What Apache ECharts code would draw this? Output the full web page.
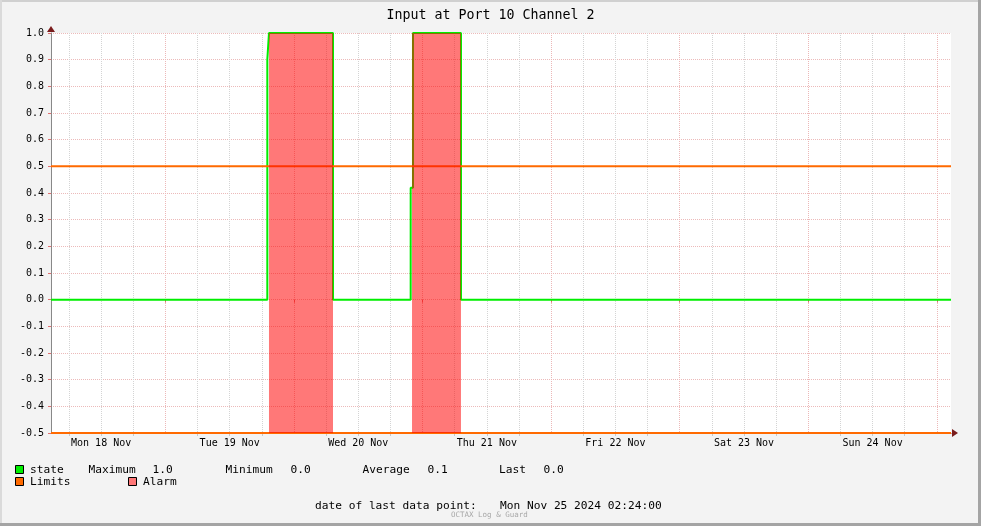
<!DOCTYPE html>
<html><head><meta charset="utf-8">
<script src="https://cdn.jsdelivr.net/npm/echarts@6/dist/echarts.min.js"></script>
<style>html,body{margin:0;padding:0;background:#f3f3f3}#c{width:981px;height:526px}</style>
</head><body><div id="c"></div>
<script>
// Time in hours since Mon 18 Nov 2024 00:00
const XMIN = 2.64, XMAX = 170.64;
const stateHours  = [2.64, 43.02, 43.33, 55.28, 69.78, 70.21, 79.17, 170.64];
const stateValues = [0,    0.9,   1.0,   0,     0.42,  1.0,   0,     0];
const alarmHours  = [2.64, 43.33, 55.28, 70.03, 79.17, 170.64];
const alarmValues = [-0.5, 1.0,   -0.5,  1.0,   -0.5,  -0.5];
const limitValues = [0.5, -0.5];
const dayLabels = ['Mon 18 Nov','Tue 19 Nov','Wed 20 Nov','Thu 21 Nov','Fri 22 Nov','Sat 23 Nov','Sun 24 Nov'];
const dayLabelHours = [12, 36, 60, 84, 108, 132, 156];
const minorTickHours = [6,12,18,30,36,42,54,60,66,78,84,90,102,108,114,126,132,138,150,156,162];
const majorTickHours = [24,48,72,96,120,144,168];
const statNames  = ['Maximum','Minimum','Average','Last'];
const statValues = ['1.0','0.0','0.1','0.0'];
const lastPointLabel = 'date of last data point:';
const lastPointTime = 'Mon Nov 25 2024 02:24:00';

const FONT = 'DejaVu Sans Mono';
const chart = echarts.init(document.getElementById('c'));
const zip = (a,b)=>a.map((v,i)=>[v,b[i]]);

const option = {
  backgroundColor:'#f3f3f3',
  animation:false,
  textStyle:{fontFamily:FONT},
  title:{text:'Input at Port 10 Channel 2', left:'center', top:4,
    textStyle:{fontFamily:FONT, fontSize:13.3, fontWeight:'normal', color:'#000'}},
  grid:{left:51, right:30, top:33, bottom:93, show:true, backgroundColor:'#ffffff', borderWidth:0},
  xAxis:[
    {type:'value', min:XMIN, max:XMAX, position:'bottom',
     axisLine:{show:true, onZero:false, lineStyle:{color:'#7a1c1c', width:1}},
     axisTick:{show:true, customValues:minorTickHours, length:3, lineStyle:{color:'#c8c8c8'}},
     splitLine:{show:true, lineStyle:{color:'#d4d4d4', type:[1,1], width:1}},
     axisLabel:{customValues:dayLabelHours, color:'#000', fontSize:10, fontFamily:FONT, margin:5,
       formatter:(v)=>dayLabels[dayLabelHours.indexOf(Math.round(v))] || ''}},
    {type:'value', min:XMIN, max:XMAX, position:'bottom',
     axisLine:{show:false},
     axisTick:{show:true, customValues:majorTickHours, length:3, lineStyle:{color:'#e07070'}},
     splitLine:{show:true, lineStyle:{color:'#ecb8b8', type:[1,1], width:1}},
     axisLabel:{show:false}}
  ],
  yAxis:{type:'value', min:-0.5, max:1.0, interval:0.1,
    axisLine:{show:true, lineStyle:{color:'#888888'}},
    axisTick:{show:true, length:3, lineStyle:{color:'#e07070'}},
    splitLine:{show:true, lineStyle:{color:'#ecbaba', type:[1,1], width:1}},
    axisLabel:{color:'#000', fontSize:10, fontFamily:FONT, margin:7, formatter:(v)=>v.toFixed(1)}},
  series:[
    {name:'state', type:'line', step:'end', data:zip(stateHours,stateValues), symbol:'none', clip:false,
     lineStyle:{color:'#00ee00', width:2}, z:2},
    {name:'Limits', type:'line', data:[[XMIN,limitValues[0]],[XMAX,limitValues[0]]], symbol:'none', clip:false,
     lineStyle:{color:'#ff6a00', width:2}, z:3},
    {name:'Limits2', type:'line', data:[[XMIN,limitValues[1]],[XMAX,limitValues[1]]], symbol:'none', clip:false,
     lineStyle:{color:'#ff6a00', width:2}, z:3},
    {name:'Alarm', type:'line', step:'end', data:zip(alarmHours,alarmValues), symbol:'none',
     lineStyle:{width:0, color:'rgba(255,0,0,0)'}, areaStyle:{color:'rgba(255,0,0,0.53)', origin:'start', opacity:1}, z:4}
  ]
};
chart.setOption(option);

// decorations: frame, arrows, legend
const tl = chart.convertToPixel({gridIndex:0}, [XMIN, 1.0]);
const br = chart.convertToPixel({gridIndex:0}, [XMAX, -0.5]);
const ax = Math.round(tl[0]), ay = Math.round(tl[1]), bx = Math.round(br[0]), by = Math.round(br[1]);
const gfx = [
  {type:'rect', shape:{x:0,y:0,width:981,height:2}, style:{fill:'#d0d0d0'}, silent:true},
  {type:'rect', shape:{x:0,y:0,width:2,height:526}, style:{fill:'#dadada'}, silent:true},
  {type:'rect', shape:{x:0,y:523,width:981,height:3}, style:{fill:'#a4a4a4'}, silent:true},
  {type:'rect', shape:{x:978,y:0,width:3,height:526}, style:{fill:'#a4a4a4'}, silent:true},
  {type:'polygon', shape:{points:[[ax-4,ay-1],[ax+4,ay-1],[ax,ay-7]]}, style:{fill:'#7a1c1c'}, z:10},
  {type:'polygon', shape:{points:[[bx+1,by-4],[bx+1,by+4],[bx+7,by]]}, style:{fill:'#7a1c1c'}, z:10}
];
const row1 = 470, row2 = 482;
const box = (x,y,c)=>({type:'rect', shape:{x:x,y:y-4.5,width:8,height:8}, style:{fill:c, stroke:'#000', lineWidth:1}});
const txt = (x,y,t,extra)=>({type:'text', x:x, y:y, style:Object.assign({text:t, fill:'#000', font:'11.2px "DejaVu Sans Mono"', textVerticalAlign:'middle'}, extra||{})});
gfx.push(box(15.5,row1,'#00ee00'), txt(30,row1,'state'));
const statNameX  = [88.5, 225.5, 362.5, 499];
const statValueX = [152.5, 290.5, 427.5, 543.5];
statNames.forEach((s,i)=>gfx.push(txt(statNameX[i],row1,s), txt(statValueX[i],row1,statValues[i])));
gfx.push(box(15.5,row2,'#ff6a00'), txt(30,row2,'Limits'));
gfx.push(box(128.5,row2,'#ff7777'), txt(143,row2,'Alarm'));
gfx.push(txt(315,506,lastPointLabel), txt(500,506,lastPointTime));
gfx.push({type:'text', x:451, y:515, style:{text:'OCTAX Log & Guard', fill:'#a8a8a8', font:'7.5px "DejaVu Sans Mono"', textVerticalAlign:'middle'}});
chart.setOption({graphic:gfx});
</script></body></html>
